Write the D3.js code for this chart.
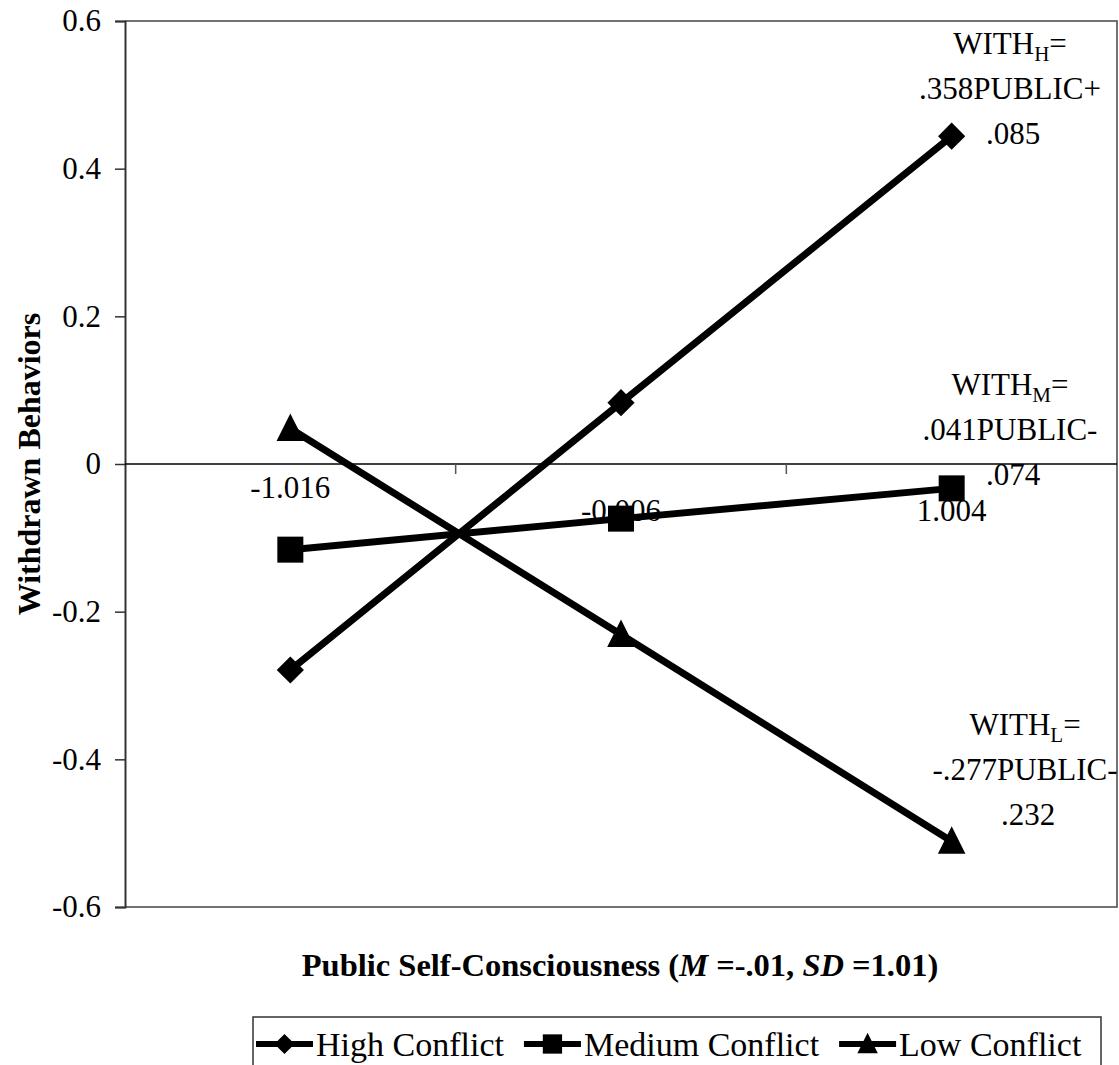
<!DOCTYPE html>
<html>
<head>
<meta charset="utf-8">
<script src="https://cdn.jsdelivr.net/npm/d3@7"></script>
<style>
  html, body { margin: 0; padding: 0; background: #fff; }
  svg { display: block; }
</style>
</head>
<body>
<svg id="chart" width="1119" height="1065" font-family="'Liberation Serif', 'Times New Roman', Tinos, serif"></svg>
<script>
// Categories: levels of public self-consciousness (mean - 1 SD, mean, mean + 1 SD)
const categories = ["-1.016", "-0.006", "1.004"];

// Predicted withdrawn behaviors for each level of conflict
const highConflict   = [-0.279, 0.083, 0.444];
const mediumConflict = [-0.116, -0.074, -0.033];
const lowConflict    = [0.048, -0.231, -0.511];

const seriesNames   = ["High Conflict", "Medium Conflict", "Low Conflict"];
const seriesSymbols = ["diamond", "square", "triangle"];

// Simple-slope equations printed beside each line
const eqSubscripts = ["H", "M", "L"];
const eqSlopes     = [".358PUBLIC+", ".041PUBLIC-", "-.277PUBLIC-"];
const eqIntercepts = [".085", ".074", ".232"];

const yTicks = [-0.6, -0.4, -0.2, 0, 0.2, 0.4, 0.6];

const FONT_FAMILY = "'Liberation Serif', 'Times New Roman', Tinos, serif";

const series = seriesNames.map((name, i) => ({
  name,
  symbol: seriesSymbols[i],
  values: [highConflict, mediumConflict, lowConflict][i]
}));

const svg = d3.select("#chart");
const plot = { left: 125, right: 1117, top: 21, bottom: 907 };
const FONT = 31;

const x = d3.scalePoint().domain(categories).range([plot.left, plot.right]).padding(0.5);
const y = d3.scaleLinear().domain([-0.6, 0.6]).range([plot.bottom, plot.top]);

// Plot area frame (top, right, bottom)
svg.append("path")
  .attr("d", `M${plot.left},${plot.top}H${plot.right}V${plot.bottom}H${plot.left}`)
  .attr("fill", "none").attr("stroke", "#444").attr("stroke-width", 1.5);

// Value axis
const fmt = d => d === 0 ? "0" : d.toFixed(1);
const yAxis = d3.axisLeft(y).tickValues(yTicks).tickSize(10).tickPadding(14).tickFormat(fmt);
const gy = svg.append("g").attr("transform", `translate(${plot.left},0)`).call(yAxis)
  .attr("font-family", FONT_FAMILY).attr("font-size", FONT);
gy.select(".domain").attr("stroke", "#333").attr("stroke-width", 2);
gy.selectAll(".tick line").attr("stroke", "#333").attr("stroke-width", 1.5);
gy.selectAll(".tick text").attr("fill", "#000");

// Category axis drawn along y = 0, ticks between categories
const y0 = y(0);
svg.append("line")
  .attr("x1", plot.left).attr("x2", plot.right).attr("y1", y0).attr("y2", y0)
  .attr("stroke", "#000").attr("stroke-width", 1.5);
const step = x.step();
const boundaries = categories.slice(1).map(c => x(c) - step / 2);
svg.selectAll(".xtick").data(boundaries).join("line")
  .attr("class", "xtick")
  .attr("x1", d => d).attr("x2", d => d)
  .attr("y1", y0).attr("y2", y0 + 10)
  .attr("stroke", "#555").attr("stroke-width", 1.5);

// Series lines
const line = d3.line().x((d, i) => x(categories[i])).y(d => y(d));
svg.selectAll(".series").data(series).join("path")
  .attr("class", "series")
  .attr("d", d => line(d.values))
  .attr("fill", "none").attr("stroke", "#000").attr("stroke-width", 7)
  .attr("stroke-linejoin", "round");

// Category labels
svg.selectAll(".xlabel").data(categories).join("text")
  .attr("class", "xlabel")
  .attr("x", d => x(d)).attr("y", (d, i) => i === 0 ? y0 + 34 : y0 + 57)
  .attr("text-anchor", "middle")
  .attr("font-size", FONT)
  .text(d => d);

// Marker shapes: a square rotated 45°, a square and an isosceles triangle
const symbolType = {
  diamond: {
    draw(ctx, size) {
      const r = Math.sqrt(size / 2);
      ctx.moveTo(0, -r); ctx.lineTo(r, 0); ctx.lineTo(0, r); ctx.lineTo(-r, 0); ctx.closePath();
    }
  },
  square: d3.symbolSquare,
  triangle: {
    draw(ctx, size) {
      const w = Math.sqrt(size * 2), h = w;
      ctx.moveTo(0, -h * 0.55); ctx.lineTo(w / 2, h * 0.45); ctx.lineTo(-w / 2, h * 0.45); ctx.closePath();
    }
  }
};
const symbolSize = { diamond: 370, square: 676, triangle: 380 };
series.forEach(s => {
  svg.selectAll(null).data(s.values).join("path")
    .attr("transform", (d, i) => `translate(${x(categories[i])},${y(d)})`)
    .attr("d", d3.symbol().type(symbolType[s.symbol]).size(symbolSize[s.symbol]))
    .attr("fill", "#000");
});

// Simple-slope equations
const eqBlocks = [
  { cx: 1010, top: 54 },
  { cx: 1010, top: 395 },
  { cx: 1025, top: 735 }
];
eqBlocks.forEach((b, i) => {
  const lh = 45;
  const t1 = svg.append("text").attr("x", b.cx).attr("y", b.top)
    .attr("text-anchor", "middle").attr("font-size", FONT);
  t1.append("tspan").text("WITH");
  t1.append("tspan").attr("dy", 7).attr("font-size", 21).text(eqSubscripts[i]);
  t1.append("tspan").attr("dy", -7).text("=");
  svg.append("text").attr("x", b.cx).attr("y", b.top + lh)
    .attr("text-anchor", "middle").attr("font-size", FONT).text(eqSlopes[i]);
  svg.append("text").attr("x", b.cx + 3).attr("y", b.top + 2 * lh)
    .attr("text-anchor", "middle").attr("font-size", FONT).text(eqIntercepts[i]);
});

// Axis titles
const xTitle = svg.append("text").attr("x", 620).attr("y", 976)
  .attr("text-anchor", "middle").attr("font-size", 32.5).attr("font-weight", "bold");
xTitle.append("tspan").text("Public Self-Consciousness (");
xTitle.append("tspan").attr("font-style", "italic").text("M");
xTitle.append("tspan").text(" =-.01, ");
xTitle.append("tspan").attr("font-style", "italic").text("SD");
xTitle.append("tspan").text(" =1.01)");

svg.append("text")
  .attr("transform", `translate(40,${(plot.top + plot.bottom) / 2}) rotate(-90)`)
  .attr("text-anchor", "middle").attr("font-size", 32).attr("font-weight", "bold")
  .text("Withdrawn Behaviors");

// Legend
const legend = svg.append("g");
const legendY = 1044;
const legendLeft = 253;
const legendRight = 1101;
let lx = legendLeft + 3;
series.forEach(s => {
  const g = legend.append("g");
  g.append("line").attr("x1", lx).attr("x2", lx + 57).attr("y1", legendY).attr("y2", legendY)
    .attr("stroke", "#000").attr("stroke-width", 6);
  g.append("path")
    .attr("transform", `translate(${lx + 28.5},${legendY})`)
    .attr("d", d3.symbol().type(symbolType[s.symbol]).size(symbolSize[s.symbol] * 0.55))
    .attr("fill", "#000");
  const t = g.append("text").attr("x", lx + 60).attr("y", legendY + 12)
    .attr("font-size", 34).text(s.name);
  lx = lx + 60 + t.node().getComputedTextLength() + 20;
});
legend.insert("rect", ":first-child")
  .attr("x", legendLeft).attr("y", 1017).attr("width", legendRight - legendLeft).attr("height", 60)
  .attr("fill", "#fff").attr("stroke", "#333").attr("stroke-width", 1.5);
</script>
</body>
</html>
